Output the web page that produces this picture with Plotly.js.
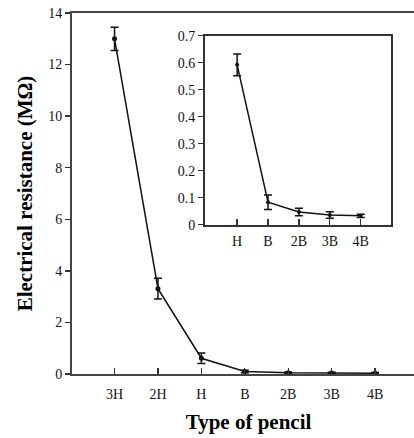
<!DOCTYPE html>
<html>
<head>
<meta charset="utf-8">
<script src="https://cdn.plot.ly/plotly-3.0.1.min.js"></script>
<style>
html,body{margin:0;padding:0;overflow:hidden;background:#fff;}
#chart{width:425px;height:438px;}
</style>
</head>
<body>
<div id="chart"></div>
<script>
// Main chart data
const mainCategories = ["3H", "2H", "H", "B", "2B", "3B", "4B"];
const mainValues = [13.0, 3.31, 0.61, 0.1, 0.045, 0.035, 0.03];
const mainErrors = [0.45, 0.4, 0.2, 0.05, 0.03, 0.03, 0.03];

// Inset data
const insetCategories = ["H", "B", "2B", "3B", "4B"];
const insetValues = [0.592, 0.083, 0.047, 0.036, 0.033];
const insetErrors = [0.04, 0.027, 0.014, 0.012, 0.006];

const SERIF = "Liberation Serif";
const INK = "#111";

function tickFont() { return {family: SERIF, size: 14, color: "#111"}; }
function titleFont() { return {family: SERIF, size: 21, color: "#000", weight: "bold"}; }

const traces = [
  {
    x: mainCategories.map((_, i) => i),
    y: mainValues,
    type: "scatter",
    mode: "lines+markers",
    line: {color: INK, width: 1.5},
    marker: {color: INK, size: 5},
    error_y: {type: "data", array: mainErrors, visible: true, color: INK, thickness: 1.5, width: 4},
    xaxis: "x", yaxis: "y",
    hoverinfo: "skip"
  },
  {
    x: insetCategories.map((_, i) => i),
    y: insetValues,
    type: "scatter",
    mode: "lines+markers",
    line: {color: INK, width: 1.5},
    marker: {color: INK, size: 4},
    error_y: {type: "data", array: insetErrors, visible: true, color: INK, thickness: 1.5, width: 4},
    xaxis: "x2", yaxis: "y2",
    hoverinfo: "skip"
  }
];

const layout = {
  width: 425,
  height: 438,
  margin: {l: 72, r: 0, t: 13, b: 64},
  paper_bgcolor: "#fff",
  plot_bgcolor: "rgba(0,0,0,0)",
  showlegend: false,
  font: {family: SERIF, color: "#111", size: 14},
  xaxis: {
    domain: [0, 1],
    range: [-0.98, 7.15],
    tickmode: "array",
    tickvals: mainCategories.map((_, i) => i),
    ticktext: mainCategories,
    ticks: "inside",
    ticklen: 6,
    tickwidth: 1.3,
    tickcolor: "#333",
    ticklabelstandoff: 6,
    showline: true,
    mirror: true,
    linecolor: "#444",
    linewidth: 2,
    showgrid: false,
    zeroline: false,
    tickfont: tickFont(),
    title: {text: "Type of pencil", font: titleFont(), standoff: 14}
  },
  yaxis: {
    domain: [0, 1],
    range: [0, 14],
    dtick: 2,
    ticks: "outside",
    ticklen: 5,
    tickwidth: 1.3,
    tickcolor: "#333",
    showline: true,
    linecolor: "#444",
    linewidth: 2,
    showgrid: false,
    zeroline: false,
    tickfont: tickFont(),
    title: {text: "Electrical resistance (MΩ)", font: titleFont(), standoff: 10}
  },
  xaxis2: {
    domain: [0.3768, 0.9037],
    anchor: "y2",
    range: [-1.04, 4.98],
    tickmode: "array",
    tickvals: insetCategories.map((_, i) => i),
    ticktext: insetCategories,
    ticks: "inside",
    ticklen: 6,
    tickwidth: 1.3,
    tickcolor: "#333",
    ticklabelstandoff: 3,
    showline: true,
    mirror: true,
    linecolor: "#333",
    linewidth: 2,
    showgrid: false,
    zeroline: false,
    tickfont: tickFont()
  },
  yaxis2: {
    domain: [0.4136, 0.9371],
    anchor: "x2",
    range: [0, 0.7],
    dtick: 0.1,
    ticks: "outside",
    ticklen: 5,
    tickwidth: 1.3,
    tickcolor: "#333",
    showline: true,
    mirror: true,
    linecolor: "#333",
    linewidth: 2,
    showgrid: false,
    zeroline: false,
    tickfont: tickFont()
  }
};

Plotly.newPlot("chart", traces, layout, {displayModeBar: false, staticPlot: true});
</script>
</body>
</html>
